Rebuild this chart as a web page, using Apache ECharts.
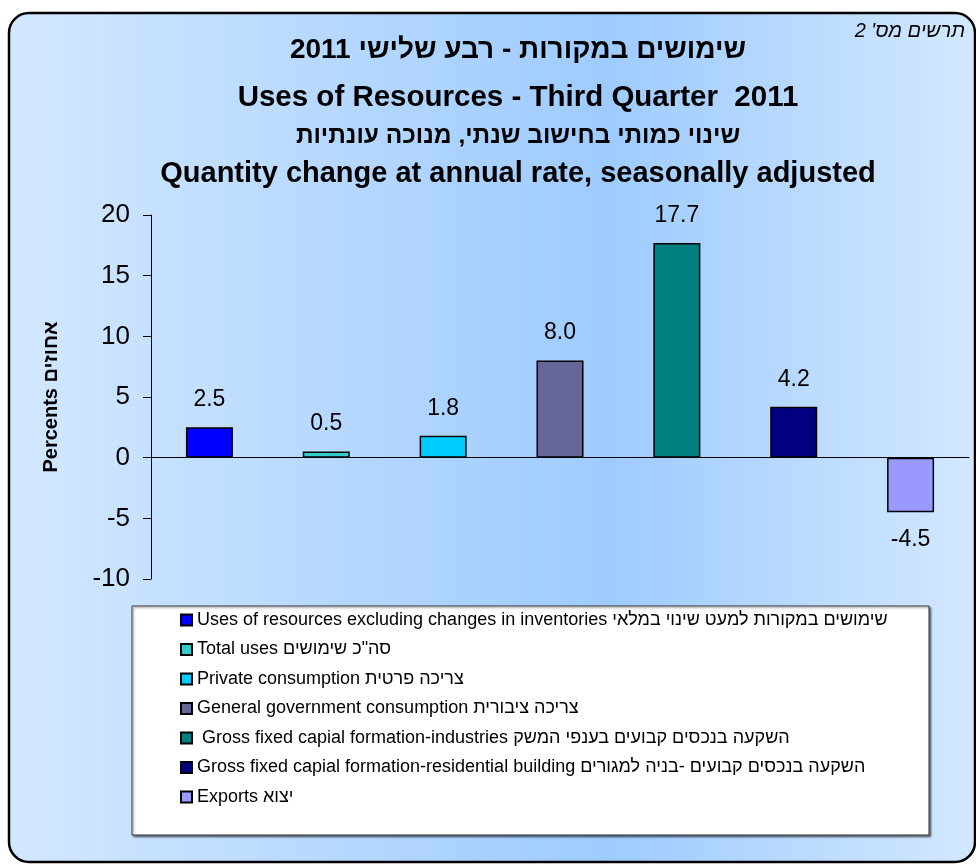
<!DOCTYPE html>
<html>
<head>
<meta charset="utf-8">
<script src="https://cdn.jsdelivr.net/npm/echarts@6/dist/echarts.min.js"></script>
<style>
html,body{margin:0;padding:0;background:#fff;}
#chart{width:976px;height:864px;}
</style>
</head>
<body>
<div id="chart"></div>
<script>
// ---- data ----
const titleLines = [
  "שימושים במקורות - רבע שלישי 2011",
  "Uses of Resources - Third Quarter  2011",
  "שינוי כמותי בחישוב שנתי, מנוכה עונתיות",
  "Quantity change at annual rate, seasonally adjusted"
];
const chartNumber = "תרשים מס' 2";
const yAxisName = "Percents אחוזים";
const categories = ["c1", "c2", "c3", "c4", "c5", "c6", "c7"];
const seriesNames = [
  "Uses of resources excluding changes in inventories שימושים במקורות למעט שינוי במלאי",
  "Total uses סה\"כ שימושים",
  "Private consumption צריכה פרטית",
  "General government consumption צריכה ציבורית",
  " Gross fixed capial formation-industries השקעה בנכסים קבועים בענפי המשק",
  "Gross fixed capial formation-residential building השקעה בנכסים קבועים -בניה למגורים",
  "Exports יצוא"
];
const values = [2.5, 0.5, 1.8, 8.0, 17.7, 4.2, -4.5];
const yTicks = [-10, -5, 0, 5, 10, 15, 20];

// ---- styles ----
const colors = ["#0000FF", "#33CCCC", "#00CCFF", "#666699", "#008080", "#000080", "#9999FF"];
const FONT = "Liberation Sans, Arial, sans-serif";

const chart = echarts.init(document.getElementById('chart'), null, {renderer: 'canvas'});

const titleSizes = [28, 29.5, 24.5, 29];
const titleCenters = [50, 98, 136, 174];
const titles = titleLines.map((t, i) => ({
  text: t,
  left: 518,
  top: titleCenters[i] - titleSizes[i] / 2,
  padding: 0,
  textAlign: 'center',
  textStyle: {fontFamily: FONT, fontSize: titleSizes[i], fontWeight: 'bold', color: '#000', lineHeight: titleSizes[i]}
}));

const series = seriesNames.map((name, i) => ({
  name: name,
  type: 'bar',
  barWidth: 47,
  barGap: '-100%',
  itemStyle: {color: colors[i], borderColor: '#000', borderWidth: 1.5},
  label: {
    show: true,
    position: values[i] < 0 ? 'bottom' : 'top',
    distance: 16,
    fontFamily: FONT,
    fontSize: 23,
    color: '#000',
    formatter: p => Number(p.value).toFixed(1)
  },
  data: categories.map((c, j) => (j === i ? values[i] : '-'))
}));

const option = {
  animation: false,
  backgroundColor: '#ffffff',
  title: titles,
  graphic: [
    {
      type: 'rect', z: -10,
      shape: {x: 9, y: 13, width: 966, height: 849, r: 20},
      style: {
        fill: new echarts.graphic.LinearGradient(0, 0, 1, 0, [
          {offset: 0, color: '#d3e8ff'},
          {offset: 0.62, color: '#9ecbff'},
          {offset: 1, color: '#d3e8ff'}
        ]),
        stroke: '#000', lineWidth: 2.5
      }
    },
    {
      type: 'rect', z: -5,
      shape: {x: 132, y: 606, width: 797, height: 229},
      style: {fill: '#fff', stroke: '#333', lineWidth: 1,
        shadowBlur: 2, shadowOffsetX: 1.5, shadowOffsetY: 1.5, shadowColor: 'rgba(0,0,0,0.45)'}
    },
    {
      type: 'text', right: 11, top: 21,
      style: {text: chartNumber, font: 'italic 20px ' + FONT, fill: '#000'}
    }
  ],
  legend: {
    orient: 'vertical',
    left: 180,
    top: 611,
    itemWidth: 11,
    itemHeight: 11,
    itemGap: 11.5,
    icon: 'rect',
    padding: 0,
    textStyle: {fontFamily: FONT, fontSize: 18, color: '#000', lineHeight: 18},
    data: seriesNames
  },
  grid: {left: 151, right: 7, top: 215, bottom: 285, containLabel: false},
  xAxis: {
    type: 'category',
    data: categories,
    axisLine: {show: true, onZero: true, lineStyle: {color: '#000', width: 1}},
    axisTick: {show: false},
    axisLabel: {show: false},
    splitLine: {show: false}
  },
  yAxis: {
    type: 'value',
    min: yTicks[0],
    max: yTicks[yTicks.length - 1],
    interval: 5,
    name: yAxisName,
    nameLocation: 'middle',
    nameRotate: 90,
    nameGap: 90,
    nameTextStyle: {fontFamily: FONT, fontSize: 20, fontWeight: 'bold', color: '#000'},
    axisLine: {show: true, lineStyle: {color: '#000', width: 1}},
    axisTick: {show: true, inside: false, length: 8, lineStyle: {color: '#000'}},
    axisLabel: {fontFamily: FONT, fontSize: 26, color: '#000', margin: 21},
    splitLine: {show: false}
  },
  series: series
};
chart.setOption(option);
</script>
</body>
</html>
